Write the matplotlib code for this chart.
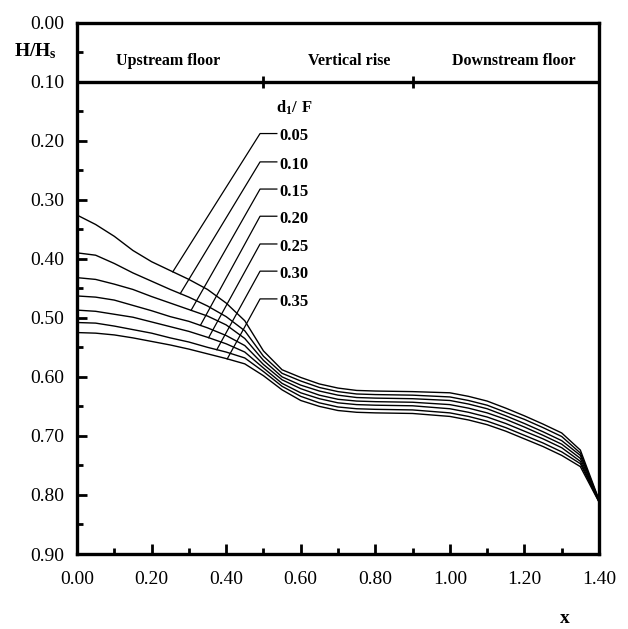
import numpy as np
import matplotlib
matplotlib.use("Agg")
import matplotlib.pyplot as plt
from matplotlib.ticker import MultipleLocator, FormatStrFormatter

plt.rcParams['font.family'] = ['Liberation Serif', 'DejaVu Serif']
plt.rcParams['mathtext.fontset'] = 'custom'
plt.rcParams['mathtext.rm'] = 'Liberation Serif'
plt.rcParams['mathtext.bf'] = 'Liberation Serif:bold'

# dane
x = [0.00, 0.05, 0.10, 0.15, 0.20, 0.25, 0.30, 0.35, 0.40, 0.45, 0.50, 0.55, 0.60,
     0.65, 0.70, 0.75, 0.80, 0.90, 1.00, 1.05, 1.10, 1.15, 1.20, 1.25, 1.30, 1.35, 1.40]

d05 = [0.326, 0.342, 0.362, 0.386, 0.405, 0.420, 0.435, 0.452, 0.475, 0.505, 0.556, 0.588, 0.601,
       0.612, 0.619, 0.623, 0.624, 0.625, 0.627, 0.633, 0.641, 0.653, 0.666, 0.680, 0.695, 0.724, 0.808]
d10 = [0.390, 0.394, 0.408, 0.424, 0.438, 0.452, 0.465, 0.480, 0.498, 0.522, 0.565, 0.594, 0.607,
       0.618, 0.625, 0.629, 0.630, 0.631, 0.634, 0.640, 0.648, 0.660, 0.672, 0.686, 0.701, 0.729, 0.809]
d15 = [0.432, 0.435, 0.443, 0.452, 0.464, 0.475, 0.486, 0.497, 0.512, 0.535, 0.572, 0.600, 0.614,
       0.624, 0.631, 0.635, 0.636, 0.637, 0.640, 0.646, 0.654, 0.666, 0.679, 0.693, 0.708, 0.733, 0.809]
d20 = [0.463, 0.465, 0.470, 0.479, 0.488, 0.498, 0.506, 0.517, 0.530, 0.547, 0.579, 0.605, 0.620,
       0.631, 0.638, 0.641, 0.642, 0.643, 0.647, 0.653, 0.661, 0.672, 0.685, 0.699, 0.714, 0.738, 0.810]
d25 = [0.487, 0.489, 0.494, 0.499, 0.507, 0.515, 0.523, 0.533, 0.544, 0.558, 0.585, 0.611, 0.627,
       0.637, 0.644, 0.647, 0.648, 0.649, 0.654, 0.660, 0.668, 0.679, 0.692, 0.705, 0.720, 0.743, 0.811]
d30 = [0.508, 0.509, 0.514, 0.520, 0.526, 0.534, 0.541, 0.550, 0.558, 0.568, 0.591, 0.616, 0.633,
       0.644, 0.651, 0.654, 0.655, 0.656, 0.661, 0.667, 0.675, 0.686, 0.699, 0.712, 0.727, 0.747, 0.811]
d35 = [0.525, 0.526, 0.529, 0.534, 0.540, 0.546, 0.553, 0.561, 0.569, 0.578, 0.598, 0.622, 0.640,
       0.650, 0.657, 0.660, 0.661, 0.662, 0.667, 0.673, 0.681, 0.692, 0.705, 0.718, 0.733, 0.752, 0.812]

krzywe = [d05, d10, d15, d20, d25, d30, d35]
etykiety = ["0.05", "0.10", "0.15", "0.20", "0.25", "0.30", "0.35"]
etykiety_y = [0.193, 0.241, 0.287, 0.333, 0.380, 0.426, 0.473]
koniec_x = [0.257, 0.277, 0.306, 0.331, 0.353, 0.375, 0.403]

sekcje = ["Upstream floor", "Vertical rise", "Downstream floor"]
sekcje_x = [0.244, 0.729, 1.172]
granice = [0.5, 0.9]

fig = plt.figure(figsize=(6.28, 6.29), dpi=100)
ax = fig.add_axes([0.1226, 0.1192, 0.8312, 0.845])

for k in krzywe:
    ax.plot(x, k, color='black', lw=1.0)

# linie odniesienia do etykiet
for k, lab, ly, xe in zip(krzywe, etykiety, etykiety_y, koniec_x):
    ye = np.interp(xe, x, k)
    ax.plot([xe, 0.491, 0.536], [ye, ly - 0.005, ly - 0.005], color='black', lw=0.9)
    ax.text(0.543, ly, lab, fontsize=12, fontweight='bold', ha='left', va='center')

ax.text(0.535, 0.145, r"$\mathbf{d_1/\ F}$", fontsize=12, ha='left', va='center')

# pasek z opisami sekcji
ax.axhline(0.1, color='black', lw=2.4)
ax.plot(granice, [0.1] * len(granice), linestyle='none', marker='|', ms=9, mew=2, color='black')
for s, sx in zip(sekcje, sekcje_x):
    ax.text(sx, 0.065, s, fontsize=11.5, fontweight='bold', ha='center', va='center')

ax.set_xlim(0, 1.4)
ax.set_ylim(0.9, 0.0)

ax.xaxis.set_major_locator(MultipleLocator(0.2))
ax.xaxis.set_minor_locator(MultipleLocator(0.1))
ax.yaxis.set_major_locator(MultipleLocator(0.1))
ax.yaxis.set_minor_locator(MultipleLocator(0.05))
ax.xaxis.set_major_formatter(FormatStrFormatter('%.2f'))
ax.yaxis.set_major_formatter(FormatStrFormatter('%.2f'))

ax.tick_params(axis='both', which='both', direction='in', top=False, right=False, labelsize=14)
ax.tick_params(axis='both', which='major', length=7, width=2)
ax.tick_params(axis='both', which='minor', length=4, width=2)
ax.tick_params(axis='y', which='major', pad=9)
ax.tick_params(axis='x', which='major', pad=12)

for sp in ax.spines.values():
    sp.set_linewidth(2.4)

fig.text(0.057, 0.918, r"$\mathbf{H/H_s}$", fontsize=14, ha='center', va='center')
fig.text(0.9, 0.017, "x", fontsize=14, fontweight='bold', ha='center', va='center')

fig.savefig("out.png", dpi=100)
